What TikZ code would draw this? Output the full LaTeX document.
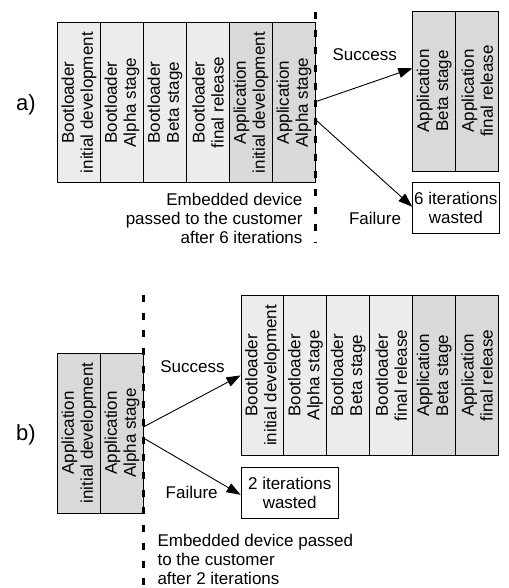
\documentclass[tikz,border=0pt]{standalone}
\usepackage{fontspec}
\setmainfont{Liberation Sans}
\usetikzlibrary{arrows.meta}
\definecolor{bootgray}{RGB}{236,236,236}
\definecolor{appgray}{RGB}{217,217,217}
\begin{document}
\begin{tikzpicture}[x=1pt,y=-1pt,
  txt/.style={font=\fontsize{17}{19}\selectfont},
  col/.style={txt, draw, line width=0.9pt, rotate=90, minimum width=160pt, minimum height=43pt, inner sep=0pt, align=center},
  boot/.style={col, fill=bootgray},
  app/.style={col, fill=appgray},
  wastebox/.style={txt, draw, line width=0.9pt, fill=white, align=center, inner sep=0pt, minimum height=51pt},
  lbl/.style={font=\fontsize{22}{26}\selectfont},
  deadline/.style={line width=3pt, dash pattern=on 7pt off 10.7pt},
  arr/.style={line width=0.9pt, -{Triangle[length=14pt,width=10pt]}}
]
\useasboundingbox (0,0) rectangle (508,588);

% ---------- a) ----------
\node[lbl] (la) at (26,105) {a)};
\node[boot] (a1) at (79,102.6) {Bootloader\\initial development};
\node[boot] (a2) at (122,102.6) {Bootloader\\Alpha stage};
\node[boot] (a3) at (165,102.6) {Bootloader\\Beta stage};
\node[boot] (a4) at (208,102.6) {Bootloader\\final release};
\node[app] (a5) at (251,102.6) {Application\\initial development};
\node[app] (a6) at (294,102.6) {Application\\Alpha stage};

\node[app] (r1) at (434.3,91) {Application\\Beta stage};
\node[app] (r2) at (477.3,91) {Application\\final release};

\node[wastebox, minimum width=86.3pt] (f6) at (455.8,207.7) {6 iterations\\wasted};

\coordinate (dta) at (315.5,12);
\coordinate (dba) at (315.5,243);
\draw[deadline] (dta) -- (dba);

\node[txt, align=right, anchor=east] (ea) at (306,218) {Embedded device\\passed to the customer\\after 6 iterations};
\node[txt] (sa) at (364.7,55) {Success};
\node[txt] (fa) at (375,218) {Failure};

\draw[arr] ([yshift=1pt]a6.south) -- ([yshift=22.7pt]r1.north);
\draw[arr] ([yshift=-17.4pt]a6.south) -- ([yshift=1pt]f6.west);

% ---------- b) ----------
\node[lbl] (lb) at (26,435) {b)};
\node[app] (b1) at (79,433) {Application\\initial development};
\node[app] (b2) at (122,433) {Application\\Alpha stage};

\node[boot] (c1) at (262.5,375.4) {Bootloader\\initial development};
\node[boot] (c2) at (305.4,375.4) {Bootloader\\Alpha stage};
\node[boot] (c3) at (348.3,375.4) {Bootloader\\Beta stage};
\node[boot] (c4) at (391.3,375.4) {Bootloader\\final release};
\node[app] (c5) at (434.2,375.4) {Application\\Beta stage};
\node[app] (c6) at (477.1,375.4) {Application\\final release};

\node[wastebox, minimum width=97.3pt] (f2) at (289.7,492.8) {2 iterations\\wasted};

\coordinate (dtb) at (143.3,295);
\coordinate (dbb) at (143.3,588);
\draw[deadline] (dtb) -- (dbb);

\node[txt, align=left, anchor=west] (eb) at (154,559) {Embedded device passed\\to the customer\\after 2 iterations};
\node[txt] (sb) at (192.5,366.7) {Success};
\node[txt] (fb) at (191.7,492.7) {Failure};

\draw[arr] ([yshift=6.3pt]b2.south) -- (c1.north);
\draw[arr] ([yshift=-5.3pt]b2.south) -- ([yshift=-2pt]f2.west);
\end{tikzpicture}
\end{document}
